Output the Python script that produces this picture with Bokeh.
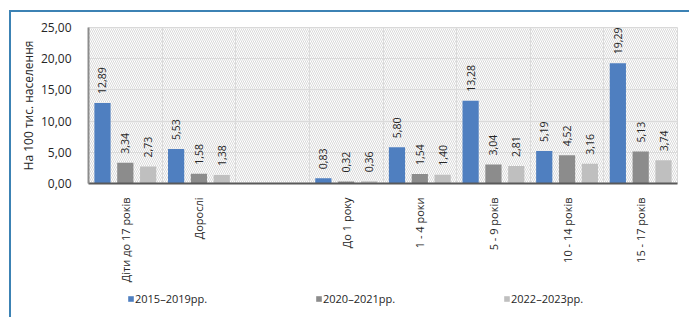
import math
from bokeh.plotting import figure
from bokeh.layouts import column
from bokeh.models import (ColumnDataSource, LabelSet, FixedTicker, BoxAnnotation,
                          Legend, LegendItem, Range1d)
from bokeh.core.properties import value
from bokeh.embed import file_html
from bokeh.resources import INLINE

categories = ["Діти до 17 років", "Дорослі", "", "До 1 року", "1 - 4 роки",
              "5 - 9 років", "10 - 14 років", "15 - 17 років"]
series_names = ["2015–2019рр.", "2020–2021рр.", "2022–2023рр."]
s2015_2019 = [12.89, 5.53, None, 0.83, 5.80, 13.28, 5.19, 19.29]
s2020_2021 = [3.34, 1.58, None, 0.32, 1.54, 3.04, 4.52, 5.13]
s2022_2023 = [2.73, 1.38, None, 0.36, 1.40, 2.81, 3.16, 3.74]
y_ticks = [0, 5, 10, 15, 20, 25]

series = [s2015_2019, s2020_2021, s2022_2023]
colors = ["#4f7fc0", "#8c8c8c", "#bfbfbf"]
offsets = [-0.31, 0.0, 0.31]
bar_w = 0.22

FONT = "Open Sans"
TXT = "#262626"

p = figure(width=678, height=275, output_backend="svg", toolbar_location=None,
           x_range=Range1d(0, len(categories)), y_range=Range1d(0, 25),
           min_border_left=77, min_border_top=15, min_border_right=12,
           min_border_bottom=104)
p.background_fill_color = "white"
p.border_fill_color = "white"
p.outline_line_color = "#d9d9d9"

bg = BoxAnnotation(fill_alpha=0, line_alpha=0,
                   hatch_pattern="left_diagonal_line", hatch_color="#d9d9d9",
                   hatch_alpha=1.0, hatch_scale=4, hatch_weight=1, level="underlay")
p.add_layout(bg)

# legend-only strip below the chart
lg = figure(width=678, height=30, output_backend="svg", toolbar_location=None,
            x_axis_type=None, y_axis_type=None,
            x_range=p.x_range, y_range=Range1d(1000, 2000),
            min_border_left=0, min_border_right=0, min_border_top=0,
            min_border_bottom=0)
lg.outline_line_color = None
lg.background_fill_color = "white"
lg.border_fill_color = "white"

legend_items = []
for name, vals, col, off in zip(series_names, series, colors, offsets):
    xs, ys, labels = [], [], []
    for i, v in enumerate(vals):
        if v is None:
            continue
        xs.append(i + 0.5 + off)
        ys.append(v)
        labels.append(f"{v:.2f}".replace(".", ","))
    src = ColumnDataSource(dict(x=xs, top=ys, lab=labels))
    p.vbar(x="x", top="top", width=bar_w, bottom=0, source=src,
           fill_color=col, line_color=None)
    r2 = lg.vbar(x="x", top="top", width=bar_w, bottom=0, source=src,
                 fill_color=col, line_color=None)
    legend_items.append(LegendItem(label=name, renderers=[r2]))
    ls = LabelSet(x="x", y="top", text="lab", source=src, angle=math.pi / 2,
                  text_align="left", text_baseline="middle", y_offset=9,
                  text_font=value(FONT), text_font_size="10.5px", text_color=TXT)
    p.add_layout(ls)

# axes
p.xaxis.ticker = FixedTicker(ticks=[i + 0.5 for i in range(len(categories))])
p.xaxis.major_label_overrides = {i + 0.5: c for i, c in enumerate(categories)}
p.xaxis.major_label_orientation = math.pi / 2
p.xaxis.major_label_text_font = FONT
p.xaxis.major_label_text_font_size = "11px"
p.xaxis.major_label_text_color = TXT
p.xaxis.major_tick_line_color = None
p.xaxis.minor_tick_line_color = None
p.xaxis.axis_line_color = "#595959"
p.xaxis.axis_line_width = 2
p.xaxis.major_label_standoff = 8

p.yaxis.ticker = FixedTicker(ticks=y_ticks)
p.yaxis.major_label_overrides = {t: f"{t:.2f}".replace(".", ",") for t in y_ticks}
p.yaxis.major_label_text_font = FONT
p.yaxis.major_label_text_font_size = "12px"
p.yaxis.major_label_text_color = TXT
p.yaxis.major_tick_line_color = None
p.yaxis.minor_tick_line_color = None
p.yaxis.axis_line_color = "#8c8c8c"
p.yaxis.axis_line_width = 2
p.yaxis.major_label_standoff = 11
p.yaxis.axis_label = "На 100 тис. населення"
p.yaxis.axis_label_text_font = FONT
p.yaxis.axis_label_text_font_style = "normal"
p.yaxis.axis_label_text_font_size = "12px"
p.yaxis.axis_label_text_color = TXT
p.yaxis.axis_label_standoff = 1

p.xgrid.ticker = FixedTicker(ticks=list(range(len(categories) + 1)))
p.xgrid.grid_line_color = "#dcdcdc"
p.ygrid.grid_line_color = "#dcdcdc"

legend = Legend(items=legend_items, orientation="horizontal", location=(39, 11),
                glyph_width=7, glyph_height=7, label_standoff=1, label_width=180,
                spacing=0, padding=0, margin=0, border_line_color=None,
                background_fill_alpha=0, label_text_font=FONT,
                label_text_font_size="11px", label_text_color=TXT)
lg.add_layout(legend, "center")

layout = column(p, lg, spacing=0)
layout.styles = {"border-left": "2px solid #3c82b4", "border-top": "2px solid #3c82b4",
                 "position": "relative", "left": "9px", "top": "10px"}

open("out.html", "w").write(file_html(layout, INLINE))
